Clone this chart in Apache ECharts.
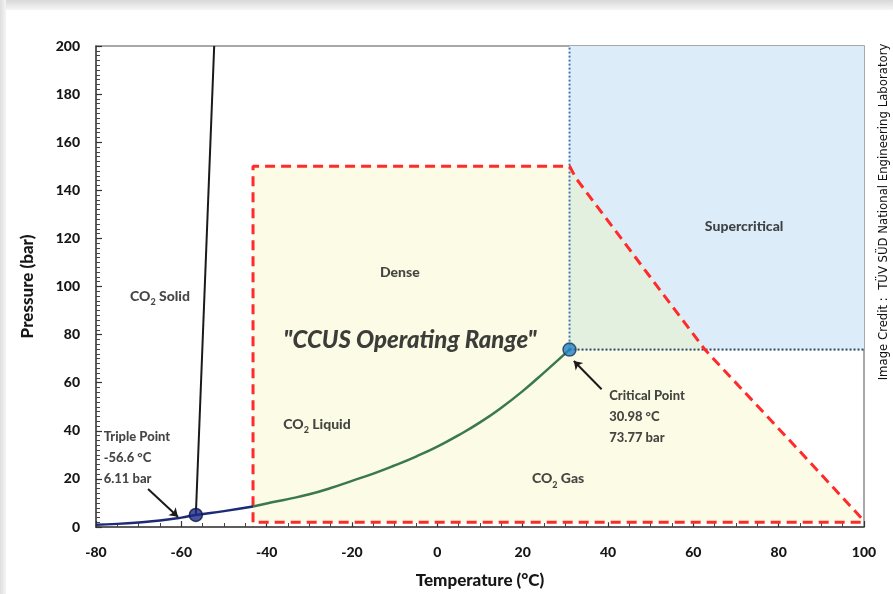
<!DOCTYPE html>
<html>
<head>
<meta charset="utf-8">
<script src="https://cdn.jsdelivr.net/npm/echarts@6/dist/echarts.min.js"></script>
<style>
  html,body{margin:0;padding:0;background:#fff;}
  #chart{width:893px;height:594px;}
</style>
</head>
<body>
<div id="chart"></div>
<script>
// tick labels
var xTicks=[-80,-60,-40,-20,0,20,40,60,80,100];
var yTicks=[0,20,40,60,80,100,120,140,160,180,200];

// phase lines  [temperature °C, pressure bar]
var sublimation=[[-80,0.9],[-75,1.3],[-70,1.9],[-65,2.7],[-60,3.9],[-56.6,5.0],[-50,6.6],[-43.2,8.5]];
var vapour=[[-43.2,8.5],[-40,9.8],[-35,11.6],[-30,13.6],[-25,16.2],[-20,19.2],[-15,22.2],[-10,25.6],[-5,29.3],[0,33.4],[5,38.2],[10,43.5],[15,49.6],[20,56.5],[25,64.2],[30.98,73.77]];
var melting=[[-56.6,5.0],[-52.3,200]];

var triplePoint=[-56.6,5.0];
var criticalPoint=[30.98,73.77];

// operating range outline
var ccusRange=[[-43.2,2],[-43.2,150],[31,150],[32.5,145],[40,127.3],[50,103.7],[62.7,73.77],[72,56.1],[85,31.4],[99.5,3.5],[99.5,2],[-43.2,2]];
var superRegion=[[30.98,73.77],[100,73.77],[100,200],[30.98,200]];
var denseSuper=[[30.98,73.77],[30.98,150],[31,150],[32.5,145],[40,127.3],[50,103.7],[62.7,73.77]];
var critVert=[[30.98,73.77],[30.98,200]];
var critHorz=[[30.98,73.77],[100,73.77]];

// arrows
var arrows=[[[-67.8,15.8],[-60.8,4.3]],[[38.5,57.3],[32,69]]];

// labels [T, P, text, kind]
var areaLabels=[
    [-65,95.9,'CO{s|2} Solid','c'],
    [-8.8,106,'Dense','c'],
    [-28.2,42.7,'CO{s|2} Liquid','c'],
    [28.3,20,'CO{s|2} Gas','c'],
    [71.9,125,'Supercritical','c'],
    [-6.4,77.6,'"CCUS Operating Range"','big'],
    [-78.2,41.8,'Triple Point\n-56.6 °C\n6.11 bar','l'],
    [40.3,58.8,'Critical Point\n30.98 °C\n73.77 bar','l']
];

var FONT='Lato, "Open Sans", sans-serif';
var INK='#161616';

function polySeries(pts,fill,z){
    return {
        type:'custom',
        z:z,
        silent:true,
        data:[[pts[0][0],pts[0][1]]],
        renderItem:function(params,api){
            var p=pts.map(function(d){return api.coord(d);});
            return {type:'polygon',shape:{points:p},style:{fill:fill}};
        }
    };
}

function lineSeries(data,color,width,type,z,smooth){
    return {
        type:'line',
        data:data,
        z:z,
        smooth:smooth||false,
        symbol:'none',
        silent:true,
        lineStyle:{color:color,width:width,type:type}
    };
}

var labelData=areaLabels.map(function(a){
    var lab={
        show:true,
        formatter:a[2],
        color:INK,
        fontFamily:FONT,
        fontWeight:900,
        fontSize:14,
        lineHeight:21,
        rich:{
            s:{fontSize:9,fontWeight:900,fontFamily:FONT,color:INK,verticalAlign:'bottom',padding:[9,0,0,0]}
        }
    };
    if(a[3]=='big'){
        lab.fontSize=24;
        lab.fontStyle='italic';
        lab.position='inside';
        lab.color='#0c0c0c';
    }else if(a[3]=='l'){
        lab.position=[0,0];
        lab.align='left';
        lab.verticalAlign='top';
        lab.fontSize=13;
    }else{
        lab.position='inside';
    }
    return {value:[a[0],a[1]],label:lab};
});

var chart=echarts.init(document.getElementById('chart'));
var option={
    backgroundColor:'#fff',
    animation:false,
    graphic:[
        {type:'rect',left:0,top:0,z:-10,shape:{width:893,height:10},
            style:{fill:new echarts.graphic.LinearGradient(0,0,0,1,[{offset:0,color:'#d8d8d8'},{offset:1,color:'#f6f6f6'}])}},
        {type:'rect',left:0,top:0,z:-10,shape:{width:6,height:594},
            style:{fill:new echarts.graphic.LinearGradient(0,0,1,0,[{offset:0,color:'#dedede'},{offset:1,color:'#f4f4f4'}])}},
        {type:'text',x:884,y:212,rotation:Math.PI/2,z:10,
            style:{text:'Image Credit :  TÜV SÜD National Engineering Laboratory',
                fill:'#111',font:'13px "Liberation Sans Narrow", "DejaVu Sans Condensed", sans-serif',
                align:'center',verticalAlign:'middle'}}
    ],
    grid:{left:96,right:29,top:46,bottom:66,show:true,borderColor:'#8c8c8c',borderWidth:1.5,backgroundColor:'transparent'},
    xAxis:{
        type:'value',min:xTicks[0],max:xTicks[xTicks.length-1],interval:20,
        name:'Temperature (°C)',nameLocation:'middle',nameGap:45,
        nameTextStyle:{fontFamily:FONT,fontWeight:900,fontSize:17,color:INK},
        axisLine:{onZero:false,lineStyle:{color:'#444',width:1.5}},
        axisTick:{inside:true,length:6,lineStyle:{color:'#333',width:1.2}},
        minorTick:{show:true,splitNumber:4,length:4,lineStyle:{color:'#444',width:1}},
        splitLine:{show:false},
        axisLabel:{margin:18,fontFamily:FONT,fontWeight:900,fontSize:14,color:INK}
    },
    yAxis:{
        type:'value',min:yTicks[0],max:yTicks[yTicks.length-1],interval:20,
        name:'Pressure (bar)',nameLocation:'middle',nameGap:60,
        nameTextStyle:{fontFamily:FONT,fontWeight:900,fontSize:17,color:INK},
        axisLine:{onZero:false,lineStyle:{color:'#444',width:1.5}},
        axisTick:{inside:true,length:6,lineStyle:{color:'#333',width:1.2}},
        minorTick:{show:true,splitNumber:10,length:4,lineStyle:{color:'#444',width:1}},
        splitLine:{show:false},
        axisLabel:{margin:16,fontFamily:FONT,fontWeight:900,fontSize:14,color:INK}
    },
    series:[
        polySeries(superRegion,'#dcedf9',1),
        polySeries(ccusRange,'#fbfbe6',2),
        polySeries(denseSuper,'#e4f0df',3),
        lineSeries(critVert,'#3f78b4',2,[2,2],4),
        lineSeries(critHorz,'#2a4768',2,[2,2],4),
        lineSeries(ccusRange,'#ff2a2a',3,[10,6],5),
        lineSeries(melting,'#1a1a1a',2,'solid',6),
        lineSeries(sublimation,'#1c2a78',2.5,'solid',6,true),
        lineSeries(vapour,'#3a7a4a',2.5,'solid',6,true),
        {
            type:'lines',
            coordinateSystem:'cartesian2d',
            z:7,silent:true,
            symbol:['none','arrow'],symbolSize:8,
            lineStyle:{color:'#1a1a1a',width:2,opacity:1},
            data:arrows.map(function(a){return {coords:a};})
        },
        {
            type:'scatter',z:8,silent:true,
            data:[
                {value:triplePoint,symbolSize:13,itemStyle:{color:'#1b2a86',borderColor:'#0d1540',borderWidth:1.5}},
                {value:criticalPoint,symbolSize:13,itemStyle:{color:'#2382c8',borderColor:'#1b3552',borderWidth:1.5}}
            ]
        },
        {
            type:'scatter',z:9,silent:true,symbolSize:0,
            data:labelData
        }
    ]
};
chart.setOption(option);
</script>
</body>
</html>
